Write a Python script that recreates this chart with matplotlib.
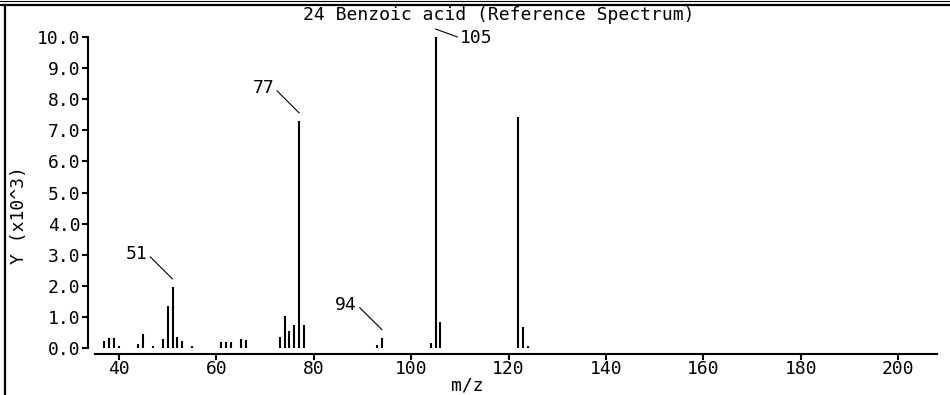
import matplotlib
matplotlib.use('Agg')
import matplotlib.pyplot as plt
import matplotlib.transforms as mtransforms
from matplotlib.lines import Line2D

# Benzoic acid mass spectrum (intensity in units of 10^3)
mz = [37, 38, 39, 40, 44, 45, 47, 49, 50, 51, 52, 53, 55,
      61, 62, 63, 65, 66, 73, 74, 75, 76, 77, 78,
      93, 94, 104, 105, 106, 122, 123, 124]
intensity = [0.22, 0.33, 0.33, 0.06, 0.12, 0.46, 0.07, 0.30, 1.34, 1.96, 0.35, 0.21, 0.08,
             0.18, 0.18, 0.18, 0.30, 0.27, 0.36, 1.04, 0.55, 0.74, 7.30, 0.74,
             0.10, 0.33, 0.16, 10.0, 0.84, 7.43, 0.66, 0.08]
labeled_peaks = [51, 77, 94, 105]
x_ticks = [40, 60, 80, 100, 120, 140, 160, 180, 200]
y_ticks = [0, 1, 2, 3, 4, 5, 6, 7, 8, 9, 10]

W, H = 950, 395
font = 'DejaVu Sans Mono'
fs = 13
plt.rcParams['font.family'] = font

fig = plt.figure(figsize=(W / 100, H / 100), dpi=100)
ax = fig.add_axes([95 / W, (H - 348) / H, (937 - 95) / W, (348 - 37) / H])

ax.vlines(mz, 0, intensity, colors='black', linewidth=1.5)
ax.set_xlim(35.07, 207.97)
ax.set_ylim(0, 10)

for s in ['top', 'right']:
    ax.spines[s].set_visible(False)
ax.spines['left'].set_position(('outward', 5))
ax.spines['left'].set_bounds(0, 10)
ax.spines['bottom'].set_position(('outward', 4))
ax.spines['left'].set_linewidth(1.5)
ax.spines['bottom'].set_linewidth(1.5)

ax.set_xticks(x_ticks)
ax.set_xticklabels([str(t) for t in x_ticks], fontsize=fs)
ax.set_yticks(y_ticks)
ax.set_yticklabels([f'{t:.1f}' for t in y_ticks], fontsize=fs)
ax.tick_params(axis='both', direction='out', length=4, width=1.5)
ax.tick_params(axis='x', pad=1)
ax.tick_params(axis='y', pad=1.5)
ax.set_xlabel('m/z', fontsize=fs, va='top')
ax.set_ylabel('Y (x10^3)', fontsize=fs)
ax.xaxis.set_label_coords((467 - 95) / 842, (348 - 376) / 311)
ax.yaxis.set_label_coords(-0.079, (348 - 215) / 311)

# peak labels with leader lines
lifted = mtransforms.offset_copy(ax.transData, fig=fig, x=0, y=8, units='dots')
for m in labeled_peaks:
    h = intensity[mz.index(m)]
    if h >= 9.9:
        off, rel = (41, -9), (0, 0.5)
    else:
        off, rel = (-36, 25), (1, 0.5)
    ax.annotate(str(m), xy=(m, h), xycoords=lifted, xytext=off,
                textcoords='offset pixels', ha='center', va='center', fontsize=fs,
                arrowprops=dict(arrowstyle='-', color='black', lw=0.8,
                                relpos=rel, shrinkA=0, shrinkB=0))

fig.text(499 / W, 1 - 15 / H, '24 Benzoic acid (Reference Spectrum)',
         ha='center', va='center', fontsize=fs)

# frame lines around the figure
fig.add_artist(Line2D([0, 1], [1 - 0.7 / H, 1 - 0.7 / H], transform=fig.transFigure,
                      color='black', lw=0.8))
fig.add_artist(Line2D([0, 1], [1 - 4.8 / H, 1 - 4.8 / H], transform=fig.transFigure,
                      color='black', lw=1.6))
fig.add_artist(Line2D([5 / W, 5 / W], [0, 1 - 4.8 / H], transform=fig.transFigure,
                      color='black', lw=1.6))

fig.savefig('out.png', dpi=100)
